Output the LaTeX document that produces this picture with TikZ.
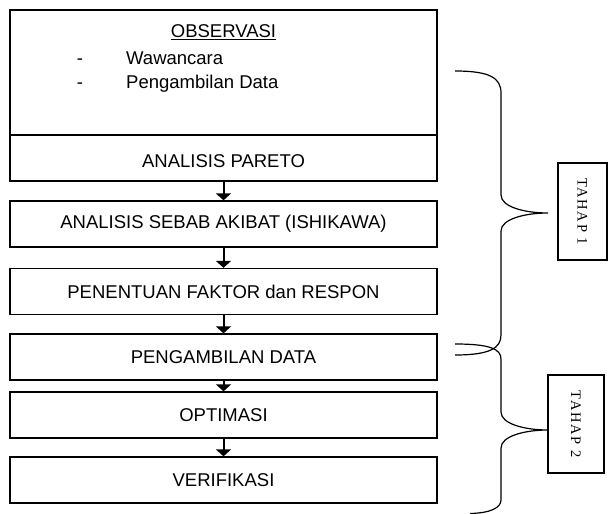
\documentclass[tikz,border=0pt]{standalone}
\usepackage{fontspec}
\setmainfont{Liberation Sans}
\newfontfamily\tahapfont[LetterSpace=12]{Liberation Serif}
\usetikzlibrary{arrows.meta}
\begin{document}
\begin{tikzpicture}[x=1pt,y=-1pt,
  stepbox/.style={draw, line width=1.3pt, minimum width=427pt, minimum height=46pt, inner sep=0pt,
    font=\fontsize{18.5}{22}\selectfont},
  txt/.style={inner sep=0pt, font=\fontsize{18.5}{22}\selectfont},
  arr/.style={line width=2pt, -{Triangle[width=15pt 0 0,length=7pt 0 0]}},
  brace/.style={line width=1.2pt},
  tahap/.style={draw, line width=1.2pt, inner sep=0pt}]
\useasboundingbox (0,0) rectangle (608,514);
% top box
\node[draw, line width=1.3pt, minimum width=427pt, minimum height=125pt, inner sep=0pt] (obs) at (223.5,72.5) {};
\node[txt, anchor=base] (obst) at (223.5,37.5) {\underline{OBSERVASI}};
\node[txt, anchor=base] (d1) at (80,64) {-};
\node[txt, anchor=base west] (w1) at (126,64) {Wawancara};
\node[txt, anchor=base] (d2) at (80,88) {-};
\node[txt, anchor=base west] (w2) at (126,88) {Pengambilan Data};
% steps
\node[stepbox] (par) at (223.5,158) {};
\node[txt, anchor=base] (part) at (223.5,167) {ANALISIS PARETO};
\node[stepbox] (seb) at (223.5,224) {ANALISIS SEBAB AKIBAT (ISHIKAWA)};
\node[stepbox] (pen) at (223.5,291.5) {PENENTUAN FAKTOR dan RESPON};
\node[stepbox] (ped) at (223.5,357) {PENGAMBILAN DATA};
\node[stepbox] (opt) at (223.5,415) {OPTIMASI};
\node[stepbox] (ver) at (223.5,480) {VERIFIKASI};
% arrows
\draw[arr] (par.south) -- (seb.north);
\draw[arr] (seb.south) -- (pen.north);
\draw[arr] (pen.south) -- (ped.north);
\draw[arr] (ped.south) -- (opt.north);
\draw[arr] (opt.south) -- (ver.north);
% brace 1
\draw[brace] (455,71) .. controls (490,71) and (501,78) .. (501,93)
  -- (501,195) .. controls (501,207) and (525,213) .. (548,213)
  .. controls (525,213) and (501,219) .. (501,231)
  -- (501,335) .. controls (501,348) and (490,355) .. (455,355);
% brace 2
\draw[brace] (455,344) .. controls (490,344) and (501,349) .. (501,359)
  -- (501,412) .. controls (501,424) and (525,430) .. (548,430)
  .. controls (525,430) and (501,436) .. (501,448)
  -- (501,500) .. controls (501,508) and (490,513) .. (470,513.5);
% tahap boxes
\node[tahap, minimum width=49pt, minimum height=97pt] (t1) at (582.5,211.5) {};
\node[inner sep=0pt, rotate=-90, font=\tahapfont\fontsize{14.5}{16}\selectfont] (t1t) at (t1.center) {TAHAP 1};
\node[tahap, minimum width=56pt, minimum height=98pt] (t2) at (576,424) {};
\node[inner sep=0pt, rotate=-90, font=\tahapfont\fontsize{14.5}{16}\selectfont] (t2t) at (t2.center) {TAHAP 2};
\end{tikzpicture}
\end{document}
